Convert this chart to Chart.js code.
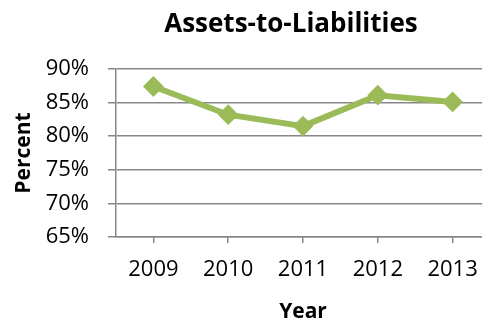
<!DOCTYPE html>
<html lang="en">
<head>
<meta charset="utf-8">
<title>Assets-to-Liabilities</title>
<style>
  * { margin: 0; padding: 0; box-sizing: border-box; }
  body { width: 482px; height: 322px; overflow: hidden; background: #ffffff; }
  .wrapper { width: 501px; height: 322px; }
</style>
</head>
<body>
<div class="wrapper">
  <canvas id="chart" width="501" height="322" style="width:501px;height:322px"></canvas>
</div>
<script src="https://cdn.jsdelivr.net/npm/chart.js@4.4.1/dist/chart.umd.min.js"></script>
<script>
const years = ["2009", "2010", "2011", "2012", "2013"];
const ratio = [87.4, 83.2, 81.5, 86.1, 85.1];
const yMin = 65;
const yMax = 90;
const yStep = 5;

const font = "'Open Sans', sans-serif";
const green = "#9bbb59";
const grey = "#878787";

// title sits over the plot rather than the whole canvas
const titlePlugin = {
  id: "plotTitle",
  afterDraw(chart) {
    const ctx = chart.ctx;
    ctx.save();
    ctx.font = "bold 26px " + font;
    ctx.fillStyle = "#000000";
    ctx.textAlign = "center";
    ctx.textBaseline = "alphabetic";
    ctx.fillText("Assets-to-Liabilities", 291, 32);
    ctx.restore();
  }
};

new Chart(document.getElementById("chart"), {
  type: "line",
  plugins: [titlePlugin],
  data: {
    labels: years,
    datasets: [{
      data: ratio,
      borderColor: green,
      backgroundColor: green,
      borderWidth: 6,
      pointStyle: "rectRot",
      pointRadius: 9,
      pointBorderWidth: 2,
      pointBorderColor: green,
      pointBackgroundColor: green,
      tension: 0
    }]
  },
  options: {
    responsive: false,
    animation: false,
    layout: { padding: { top: 69, right: 1, left: 0, bottom: 0 } },
    plugins: {
      legend: { display: false },
      tooltip: { enabled: false },
      title: { display: false }
    },
    scales: {
      x: {
        offset: true,
        grid: {
          offset: false,
          drawOnChartArea: false,
          drawTicks: true,
          tickLength: 6,
          color: grey,
          lineWidth: 1.5
        },
        border: { color: grey, width: 1.5 },
        ticks: {
          color: "#000000",
          font: { family: font, size: 22 },
          padding: 14,
          maxRotation: 0
        },
        title: {
          display: true,
          text: "Year",
          color: "#000000",
          font: { family: font, size: 21, weight: "bold" },
          padding: { top: 2, bottom: -3 }
        },
        afterFit(scale) { scale.height = 85; }
      },
      y: {
        min: yMin,
        max: yMax,
        ticks: {
          stepSize: yStep,
          color: "#000000",
          font: { family: font, size: 22 },
          padding: 19,
          callback: (v) => v + "%"
        },
        grid: {
          color: grey,
          lineWidth: 1.5,
          tickLength: 8
        },
        border: { color: grey, width: 1.5 },
        title: {
          display: true,
          text: "Percent",
          color: "#000000",
          font: { family: font, size: 21, weight: "bold" },
          padding: { top: 11, bottom: 0 }
        },
        afterFit(scale) { scale.width = 116; }
      }
    }
  }
});
</script>
</body>
</html>
